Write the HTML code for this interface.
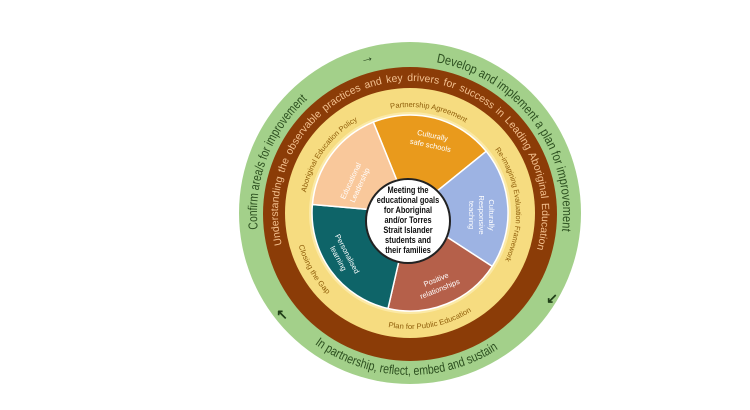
<!DOCTYPE html>
<html><head><meta charset="utf-8"><style>
html,body{margin:0;padding:0;background:#fff;}
svg{display:block;font-family:"Liberation Sans",sans-serif;}
</style></head><body>
<svg width="750" height="410" viewBox="0 0 750 410" xmlns="http://www.w3.org/2000/svg">
<defs>
<path id="cw153" d="M410,366 A153,153 0 1 1 410,60 A153,153 0 1 1 410,366"/>
<path id="ccw162" d="M410,51 A162,162 0 1 0 410,375 A162,162 0 1 0 410,51"/>
<path id="cw132" d="M410,345 A132,132 0 1 1 410,81 A132,132 0 1 1 410,345"/>
<path id="cw106" d="M410,319 A106,106 0 1 1 410,107 A106,106 0 1 1 410,319"/>
<path id="ccw116" d="M410,97 A116,116 0 1 0 410,329 A116,116 0 1 0 410,97"/>
</defs>
<circle cx="410" cy="213" r="171" fill="#a3d08a"/>
<circle cx="410" cy="214" r="147" fill="#8b3c07"/>
<circle cx="410" cy="213" r="125" fill="#f6dc80"/>
<circle cx="410" cy="213" r="101" fill="#fbe9a6"/>
<g stroke="#fff" stroke-width="1.5">
<path d="M410,213 L373.3,122.1 A98,98 0 0 1 486.2,151.3 Z" fill="#e99a1c"/>
<path d="M410,213 L486.2,151.3 A98,98 0 0 1 492.2,266.4 Z" fill="#9db3e3"/>
<path d="M410,213 L492.2,266.4 A98,98 0 0 1 388,308.5 Z" fill="#b5604a"/>
<path d="M410,213 L388,308.5 A98,98 0 0 1 312.4,204.5 Z" fill="#0e6468"/>
<path d="M410,213 L312.4,204.5 A98,98 0 0 1 373.3,122.1 Z" fill="#f9c89b"/>
</g>
<circle cx="408" cy="221" r="42" fill="#fff" stroke="#222" stroke-width="2"/>
<g font-size="9.5" font-weight="bold" fill="#111" text-anchor="middle" transform="translate(408,0) scale(0.78,1)">
<text x="0" y="193">Meeting the</text>
<text x="0" y="203">educational goals</text>
<text x="0" y="213">for Aboriginal</text>
<text x="0" y="223">and/or Torres</text>
<text x="0" y="233">Strait Islander</text>
<text x="0" y="243">students and</text>
<text x="0" y="253">their families</text>
</g>
<g fill="#fff" font-size="7.5" text-anchor="middle">
<g transform="translate(432,138) rotate(12)"><text y="0">Culturally</text><text y="10">safe schools</text></g>
<g transform="translate(353,182) rotate(-65)"><text y="0">Educational</text><text y="10">Leadership</text></g>
<g transform="translate(483,215) rotate(90)"><text y="-6">Culturally</text><text y="4">Responsive</text><text y="14">teaching</text></g>
<g transform="translate(345,255) rotate(62)"><text y="0">Personalised</text><text y="10">learning</text></g>
<g transform="translate(437,282) rotate(-22)"><text y="0">Positive</text><text y="10">relationships</text></g>
</g>
<g fill="#2c4f1f" font-size="13">
<text><textPath href="#cw153" startOffset="224" textLength="144" lengthAdjust="spacingAndGlyphs">Confirm area/s for improvement</textPath></text>
<text><textPath href="#cw153" startOffset="507" textLength="232" lengthAdjust="spacingAndGlyphs">Develop and implement a plan for improvement</textPath></text>
<text><textPath href="#ccw162" startOffset="407" textLength="195" lengthAdjust="spacingAndGlyphs">In partnership, reflect, embed and sustain</textPath></text>
</g>
<g fill="#f3c08f" font-size="10.5" word-spacing="1.5">
<text><textPath href="#cw132" startOffset="175">Understanding the observable practices and key drivers for success in Leading Aboriginal Education</textPath></text>
</g>
<g fill="#8f5e0a" font-size="7.5">
<text><textPath href="#cw106" startOffset="313" textLength="78" lengthAdjust="spacingAndGlyphs">Partnership Agreement</textPath></text>
<text><textPath href="#cw106" startOffset="431" textLength="117" lengthAdjust="spacingAndGlyphs">Re-imagining Evaluation Framework</textPath></text>
<text><textPath href="#cw106" startOffset="187" textLength="91" lengthAdjust="spacingAndGlyphs">Aboriginal Education Policy</textPath></text>
<text><textPath href="#ccw116" startOffset="342" textLength="87" lengthAdjust="spacingAndGlyphs">Plan for Public Education</textPath></text>
<text><textPath href="#ccw116" startOffset="215" textLength="57" lengthAdjust="spacingAndGlyphs">Closing the Gap</textPath></text>
</g>
<g fill="#1f3d17" font-size="14" font-weight="bold" text-anchor="middle">
<text transform="translate(368,62) rotate(-15)">→</text>
<text transform="translate(552,303)">↙</text>
<text transform="translate(282,319)">↖</text>
</g>
</svg>
</body></html>
